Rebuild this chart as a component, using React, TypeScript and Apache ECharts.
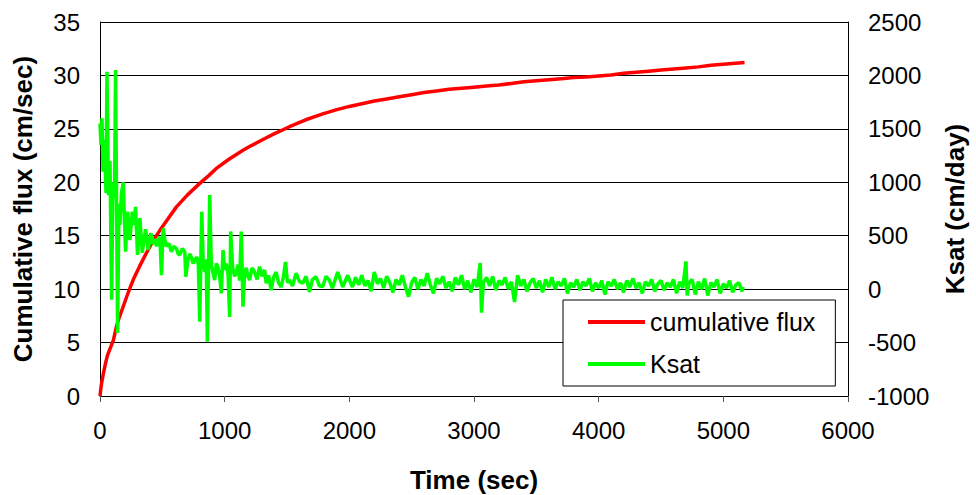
import React, { useEffect, useRef } from "react";
import * as echarts from "echarts";

// Cumulative flux (cm/sec) vs time (sec)
const fluxTime = [0, 10, 27, 45, 60, 80, 107, 130, 150, 187, 230, 267, 320, 373, 430, 480, 540, 613, 700, 800, 870, 933, 1040, 1100, 1147, 1200, 1307, 1400, 1520, 1650, 1787, 1900, 2000, 2100, 2200, 2300, 2400, 2500, 2600, 2700, 2800, 2900, 3000, 3100, 3200, 3300, 3400, 3500, 3600, 3700, 3800, 3900, 4000, 4100, 4200, 4300, 4400, 4500, 4600, 4700, 4800, 4900, 5000, 5100, 5170];
const fluxValue = [0, 1.0, 2.1, 3.1, 3.8, 4.4, 5.2, 6.4, 7.2, 8.4, 9.8, 10.9, 12.2, 13.4, 14.6, 15.5, 16.5, 17.7, 18.8, 19.9, 20.6, 21.3, 22.2, 22.65, 23.0, 23.35, 24.0, 24.55, 25.2, 25.85, 26.4, 26.8, 27.1, 27.35, 27.6, 27.8, 28.0, 28.2, 28.4, 28.55, 28.7, 28.8, 28.9, 29.0, 29.1, 29.25, 29.4, 29.5, 29.6, 29.7, 29.8, 29.85, 29.95, 30.05, 30.2, 30.3, 30.4, 30.5, 30.6, 30.7, 30.8, 30.95, 31.05, 31.15, 31.2];

// Ksat (cm/day) vs time (sec)
const ksatTime = [
  0, 8, 16, 24, 36, 48, 56, 68, 80, 93, 104, 116, 125, 141, 152, 160, 172, 187, 196, 205,
  221, 240, 259, 272, 285, 301, 320, 339, 365, 387, 408, 424, 440, 453, 467, 480, 493, 507, 520, 533,
  552, 573, 592, 613, 627, 640, 660, 680, 688, 707, 724, 747, 763, 779, 789, 800, 816, 828, 840, 852,
  861, 880, 893, 907, 920, 933, 947, 960, 973, 987, 1000, 1013, 1027, 1040, 1048, 1064, 1080, 1093, 1107, 1120,
  1133, 1147, 1160, 1173, 1187, 1200, 1220, 1240, 1260, 1280, 1300, 1320, 1333, 1352, 1373, 1392, 1413, 1432, 1453, 1472,
  1488, 1504, 1520, 1544, 1573, 1600, 1627, 1653, 1680, 1704, 1733, 1760, 1787, 1813, 1840, 1864, 1907, 1947, 1987,
  2000, 2025, 2050, 2075, 2100, 2125, 2150, 2175, 2200, 2225, 2250, 2275, 2300, 2325, 2350, 2375, 2400, 2425, 2450, 2475,
  2500, 2525, 2550, 2575, 2600, 2625, 2650, 2675, 2700, 2725, 2750, 2775, 2800, 2825, 2850, 2875, 2900, 2925, 2950, 2975,
  3000, 3025, 3050, 3060, 3075, 3100, 3125, 3150, 3175, 3200, 3225, 3250, 3275, 3300, 3325, 3350, 3375, 3400, 3425, 3450,
  3475, 3500, 3525, 3550, 3575, 3600, 3625, 3650, 3675, 3700, 3725, 3750, 3775, 3800, 3825, 3850, 3875, 3900, 3925, 3950,
  3975, 4000, 4025, 4050, 4075, 4100, 4125, 4150, 4175, 4200, 4225, 4250, 4275, 4300, 4325, 4350, 4375, 4400, 4425, 4450,
  4475, 4500, 4525, 4550, 4575, 4600, 4625, 4650, 4675, 4700, 4710, 4725, 4750, 4775, 4800, 4825, 4850, 4875, 4900, 4925,
  4950, 4975, 5000, 5025, 5050, 5075, 5100, 5125, 5150, 5160,
];
const ksatValue = [
  1550, 1350, 1600, 1100, 1400, 900, 2035, 880, 1200, -100, 1000, 850, 2050, -410, 800, 600, 900, 1000, 650, 350,
  725, 460, 725, 600, 770, 320, 665, 340, 560, 366, 525, 420, 470, 400, 460, 490, 130, 570, 460, 400,
  430, 350, 400, 380, 330, 320, 380, 350, 116, 290, 330, 240, 280, 300, 220, -305, 725, 250, 160, 280,
  -492, 880, 230, 150, 85, 240, 200, 120, -40, 366, 180, 240, 140, -260, 540, 200, 120, 150, 230, 80,
  540, -165, 150, 200, 120, 85, 200, 160, 90, 210, 120, 180, 55, 130, -10, 110, 160, 60, 20, 120,
  255, 60, 85, 30, 150, 70, 55, 120, -25, 90, 116, 30, 25, 120, 85, 10, 160, 20, 130,
  90, 20, 110, 40, 130, 30, 80, -20, 160, 50, 100, 10, 120, 60, -30, 90, 40, 130, 20, -70,
  60, 110, 0, 90, 30, 150, 40, -40, 100, 50, 120, 10, 70, -20, 110, 40, 130, 0, 80, -30,
  90, 20, 245, -220, 60, 110, 30, 120, -10, 80, 40, 110, 0, 70, -120, 130, 30, 90, -20, 60,
  100, 10, 80, -30, 90, 20, 110, 0, 70, 30, 100, -40, 60, 20, 90, -10, 70, 30, 100, -20,
  60, 10, 80, -50, 70, 30, 90, 0, 60, -30, 80, 20, 100, 10, 60, -40, 70, 30, 90, -20,
  50, 80, -10, 60, 20, 90, -40, 70, 10, 260, -60, 60, 90, -50, 70, 0, 100, -60, 60, 20,
  90, -40, 50, 10, 80, -30, 40, 60, -20, 20,
];

const xTicks = { min: 0, max: 6000, interval: 1000 };
const fluxTicks = { min: 0, max: 35, interval: 5 };
const ksatTicks = { min: -1000, max: 2500, interval: 500 };

const seriesNames = ["cumulative flux", "Ksat"];
const axisTitles = { x: "Time (sec)", left: "Cumulative flux (cm/sec)", right: "Ksat (cm/day)" };

const FONT = "'Liberation Sans', Arial, sans-serif";
const plain = (v: number) => String(v);

export default function App() {
  const ref = useRef<HTMLDivElement>(null);

  useEffect(() => {
    document.body.style.margin = "0";
    if (!ref.current) return;
    const chart = echarts.init(ref.current, null, { renderer: "svg" });

    const fluxData = fluxTime.map((t, i) => [t, fluxValue[i]]);
    const ksatData = ksatTime.map((t, i) => [t, ksatValue[i]]);

    chart.setOption({
      animation: false,
      backgroundColor: "#ffffff",
      textStyle: { fontFamily: FONT },
      grid: { left: 100, right: 128, top: 22, bottom: 99, containLabel: false, outerBoundsMode: "none" },
      legend: {
        orient: "vertical",
        left: 563,
        top: 300,
        padding: [7, 20, 7, 25],
        itemGap: 12,
        itemWidth: 57,
        itemHeight: 4,
        icon: "rect",
        borderColor: "#000",
        borderWidth: 1,
        backgroundColor: "#fff",
        textStyle: { fontFamily: FONT, fontSize: 25, color: "#000", lineHeight: 30 },
        data: seriesNames,
      },
      xAxis: {
        type: "value",
        min: xTicks.min,
        max: xTicks.max,
        interval: xTicks.interval,
        name: axisTitles.x,
        nameLocation: "middle",
        nameGap: 71,
        nameTextStyle: { fontFamily: FONT, fontSize: 26, fontWeight: "bold", color: "#000" },
        axisLine: { lineStyle: { color: "#000", width: 1 } },
        axisTick: { show: true, length: 6, lineStyle: { color: "#555" } },
        axisLabel: { fontFamily: FONT, fontSize: 24, color: "#000", margin: 22, formatter: plain },
        splitLine: { show: false },
      },
      yAxis: [
        {
          type: "value",
          position: "left",
          min: fluxTicks.min,
          max: fluxTicks.max,
          interval: fluxTicks.interval,
          name: axisTitles.left,
          nameLocation: "middle",
          nameRotate: 90,
          nameGap: 64,
          nameTextStyle: { fontFamily: FONT, fontSize: 26, fontWeight: "bold", color: "#000" },
          axisLine: { show: true, lineStyle: { color: "#000", width: 1 } },
          axisTick: { show: false },
          axisLabel: { fontFamily: FONT, fontSize: 24, color: "#000", margin: 20, formatter: plain },
          splitLine: { show: true, lineStyle: { color: "#000", width: 1 } },
        },
        {
          type: "value",
          position: "right",
          min: ksatTicks.min,
          max: ksatTicks.max,
          interval: ksatTicks.interval,
          name: axisTitles.right,
          nameLocation: "middle",
          nameRotate: 90,
          nameGap: 94,
          nameTextStyle: { fontFamily: FONT, fontSize: 26, fontWeight: "bold", color: "#000" },
          axisLine: { show: true, lineStyle: { color: "#000", width: 1 } },
          axisTick: { show: false },
          axisLabel: { fontFamily: FONT, fontSize: 24, color: "#000", margin: 20, formatter: plain },
          splitLine: { show: false },
        },
      ],
      series: [
        {
          name: seriesNames[0],
          type: "line",
          yAxisIndex: 0,
          data: fluxData,
          showSymbol: false,
          symbol: "none",
          color: "#ff0000",
          lineStyle: { color: "#ff0000", width: 3.5 },
          z: 2,
        },
        {
          name: seriesNames[1],
          type: "line",
          yAxisIndex: 1,
          data: ksatData,
          showSymbol: false,
          symbol: "none",
          color: "#00ff00",
          lineStyle: { color: "#00ff00", width: 3.5 },
          z: 3,
        },
      ],
    });

    return () => chart.dispose();
  }, []);

  return <div ref={ref} style={{ width: 976, height: 495 }} />;
}
